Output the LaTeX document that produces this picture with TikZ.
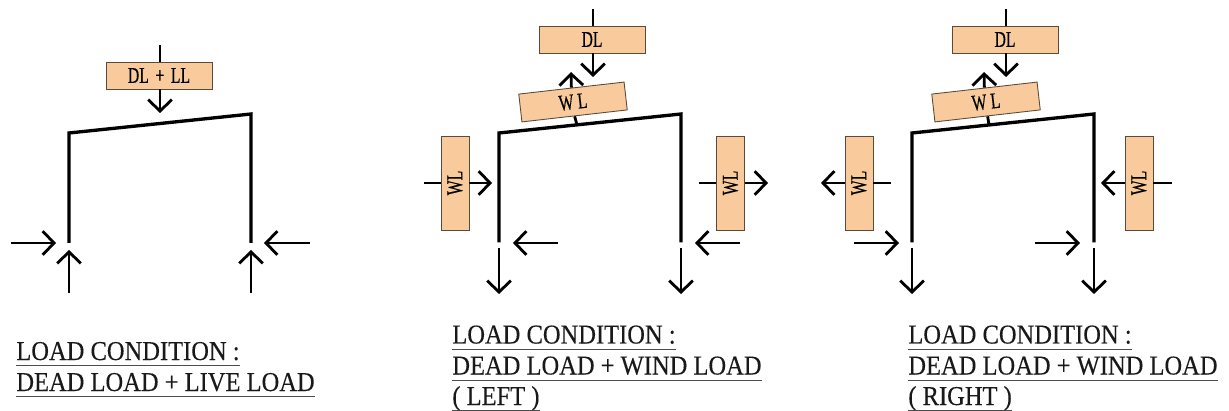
\documentclass[tikz,border=0pt]{standalone}
\usepackage{graphicx}
\usepackage{fontspec}
\setmainfont{Liberation Serif}
\newfontfamily\boxfont[FakeBold=.5]{Liberation Serif}
\newfontfamily\capfont[FakeBold=.25]{Liberation Serif}
\usepackage{xcolor}
\usetikzlibrary{arrows.meta,positioning}
\definecolor{loadfill}{HTML}{F9CB9C}
\definecolor{loadedge}{HTML}{5A4A38}
\newcommand{\loadtxt}[1]{\scalebox{.7}[1]{\boxfont\fontsize{12.8}{12.8}\selectfont #1}}
\newcommand{\captxt}[1]{\scalebox{.9}[1]{\capfont\fontsize{15.5}{15.5}\selectfont #1}}
\tikzset{
  frameline/.style={line width=1.9pt, line join=miter},
  loadarrow/.style={line width=1.6pt, -{Straight Barb[length=6.5pt,width=13.5pt,line width=1.6pt]}},
  loadstub/.style={line width=1.6pt},
  hbox/.style={draw=loadedge, fill=loadfill, line width=.5pt, minimum width=2.12cm, minimum height=.54cm, inner sep=0pt},
  vbox/.style={draw=loadedge, fill=loadfill, line width=.5pt, minimum width=.56cm, minimum height=1.88cm, inner sep=0pt},
  capnode/.style={anchor=base west, inner sep=0pt, text=black!90},
  capline/.style={line width=.5pt, color=black!70}
}

\begin{document}
\begin{tikzpicture}[x=.02cm,y=-.02cm]
\useasboundingbox (0,0) rectangle (1229,411);

% first frame
\coordinate (a1) at (69,243);
\coordinate (a2) at (69,133);
\coordinate (a3) at (251,114);
\coordinate (a4) at (251,243);
\draw[frameline] (a1) -- (a2) -- (a3) -- (a4);
\coordinate (a5) at (160,45);
\coordinate (a6) at (160,113);
\node[hbox] (dll) at (159,75.5) {\loadtxt{DL \,+\, LL}};
\draw[loadstub] (a5) -- (a5 |- dll.north);
\draw[loadarrow] (a6 |- dll.south) -- (a6);
% ... reactions
\coordinate (a7) at (11,243);
\coordinate (a8) at (56,243);
\coordinate (a9) at (310,243);
\coordinate (a10) at (264,243);
\coordinate (a11) at (69,293);
\coordinate (a12) at (69,250);
\coordinate (a13) at (251,293);
\coordinate (a14) at (251,250);
\draw[loadarrow] (a7) -- (a8);
\draw[loadarrow] (a9) -- (a10);
\draw[loadarrow] (a11) -- (a12);
\draw[loadarrow] (a13) -- (a14);

% second frame
\coordinate (b1) at (499,242.5);
\coordinate (b2) at (499,133);
\coordinate (b3) at (681,114);
\coordinate (b4) at (681,242.5);
\draw[frameline] (b1) -- (b2) -- (b3) -- (b4);
\coordinate (b5) at (593,9);
\coordinate (b6) at (593,77);
\node[hbox] (dlb) at (592,39.5) {\loadtxt{DL}};
\draw[loadstub] (b5) -- (b5 |- dlb.north);
\draw[loadarrow] (b6 |- dlb.south) -- (b6);
% ... wind on roof
\coordinate (b7) at (577,125);
\coordinate (b8) at (571,72);
\node[hbox, minimum height=.56cm, rotate=6.5] (wrb) at (573,102) {\loadtxt{W L}};
\draw[loadstub] (b7) -- (wrb.south);
\draw[loadarrow] (wrb.north) -- (b8);
% ... wind on columns
\coordinate (b9) at (424,183);
\coordinate (b10) at (492,183);
\coordinate (b11) at (699,183);
\coordinate (b12) at (768,183);
\node[vbox] (wlb) at (455,183) {\rotatebox{90}{\loadtxt{WL}}};
\node[vbox] (wmb) at (730.5,183) {\rotatebox{90}{\loadtxt{WL}}};
\draw[loadstub] (b9) -- (wlb.west);
\draw[loadarrow] (wlb.east) -- (b10);
\draw[loadstub] (b11) -- (wmb.west);
\draw[loadarrow] (wmb.east) -- (b12);
% ... reactions
\coordinate (b13) at (558,243);
\coordinate (b14) at (513,243);
\coordinate (b15) at (740,243);
\coordinate (b16) at (695,243);
\coordinate (b17) at (499,248);
\coordinate (b18) at (499,294);
\coordinate (b19) at (681,248);
\coordinate (b20) at (681,294);
\draw[loadarrow] (b13) -- (b14);
\draw[loadarrow] (b15) -- (b16);
\draw[loadarrow] (b17) -- (b18);
\draw[loadarrow] (b19) -- (b20);

% third frame
\coordinate (c1) at (912,242.5);
\coordinate (c2) at (912,133);
\coordinate (c3) at (1094,114);
\coordinate (c4) at (1094,242.5);
\draw[frameline] (c1) -- (c2) -- (c3) -- (c4);
\coordinate (c5) at (1006,9);
\coordinate (c6) at (1006,77);
\node[hbox] (dlc) at (1005,39.5) {\loadtxt{DL}};
\draw[loadstub] (c5) -- (c5 |- dlc.north);
\draw[loadarrow] (c6 |- dlc.south) -- (c6);
% ... wind on roof
\coordinate (c7) at (989,125);
\coordinate (c8) at (984,72);
\node[hbox, minimum height=.56cm, rotate=6.5] (wrc) at (986,102) {\loadtxt{W L}};
\draw[loadstub] (c7) -- (wrc.south);
\draw[loadarrow] (wrc.north) -- (c8);
% ... wind on columns
\coordinate (c9) at (891,183);
\coordinate (c10) at (821,183);
\coordinate (c11) at (1172,183);
\coordinate (c12) at (1101,183);
\node[vbox] (wlc) at (859,183) {\rotatebox{90}{\loadtxt{WL}}};
\node[vbox] (wmc) at (1139,183) {\rotatebox{90}{\loadtxt{WL}}};
\draw[loadstub] (c9) -- (wlc.east);
\draw[loadarrow] (wlc.west) -- (c10);
\draw[loadstub] (c11) -- (wmc.east);
\draw[loadarrow] (wmc.west) -- (c12);
% ... reactions
\coordinate (c13) at (854,243);
\coordinate (c14) at (899,243);
\coordinate (c15) at (1035,243);
\coordinate (c16) at (1080,243);
\coordinate (c17) at (912,248);
\coordinate (c18) at (912,294);
\coordinate (c19) at (1094,248);
\coordinate (c20) at (1094,294);
\draw[loadarrow] (c13) -- (c14);
\draw[loadarrow] (c15) -- (c16);
\draw[loadarrow] (c17) -- (c18);
\draw[loadarrow] (c19) -- (c20);

% captions
\node[capnode] (ta1) at (16,360) {\captxt{LOAD CONDITION :}};
\node[capnode] (ta2) at (16,391) {\captxt{DEAD LOAD + LIVE LOAD}};
\draw[capline] ([yshift=-3.3pt]ta1.base west) -- ([yshift=-3.3pt]ta1.base east);
\draw[capline] ([yshift=-3.3pt]ta2.base west) -- ([yshift=-3.3pt]ta2.base east);

\node[capnode] (tb1) at (452,343.5) {\captxt{LOAD CONDITION :}};
\node[capnode] (tb2) at (452,374.5) {\captxt{DEAD LOAD + WIND LOAD}};
\node[capnode] (tb3) at (452,405) {\captxt{( LEFT )}};
\draw[capline] ([yshift=-3.3pt]tb1.base west) -- ([yshift=-3.3pt]tb1.base east);
\draw[capline] ([yshift=-3.3pt]tb2.base west) -- ([yshift=-3.3pt]tb2.base east);
\draw[capline] ([yshift=-3.3pt]tb3.base west) -- ([yshift=-3.3pt]tb3.base east);

\node[capnode] (tc1) at (908,343.5) {\captxt{LOAD CONDITION :}};
\node[capnode] (tc2) at (908,374.5) {\captxt{DEAD LOAD + WIND LOAD}};
\node[capnode] (tc3) at (908,405) {\captxt{( RIGHT )}};
\draw[capline] ([yshift=-3.3pt]tc1.base west) -- ([yshift=-3.3pt]tc1.base east);
\draw[capline] ([yshift=-3.3pt]tc2.base west) -- ([yshift=-3.3pt]tc2.base east);
\draw[capline] ([yshift=-3.3pt]tc3.base west) -- ([yshift=-3.3pt]tc3.base east);

\end{tikzpicture}
\end{document}
